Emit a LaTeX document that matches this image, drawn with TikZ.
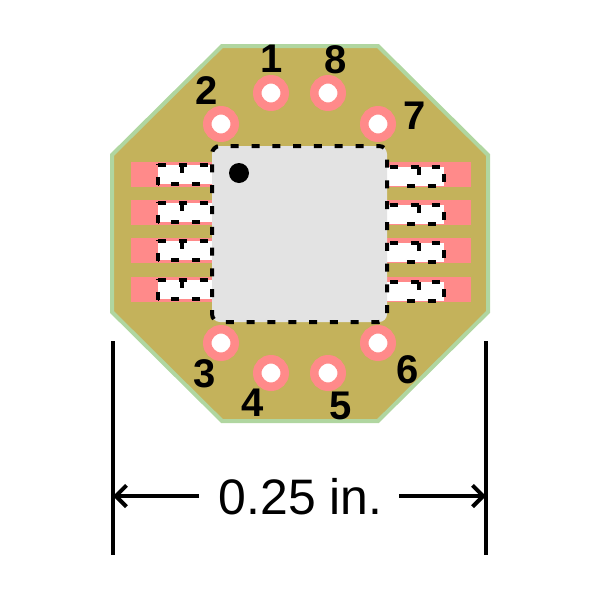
\documentclass[tikz,border=0pt]{standalone}
\usepackage{fontspec}
\setmainfont{Liberation Sans}
\usetikzlibrary{arrows.meta}
\definecolor{board}{HTML}{C4B25B}
\definecolor{edgegreen}{HTML}{B0D6A0}
\definecolor{padpink}{HTML}{FF8A8A}
\definecolor{chipgrey}{HTML}{E3E3E3}
\tikzset{
  dashline/.style={draw=black,line width=3pt,dash pattern=on 6pt off 9.6pt},
  ring/.style={draw=padpink,line width=6.4pt,fill=white,circle,inner sep=0pt,minimum size=20.6pt},
  pinlabel/.style={font=\bfseries\fontsize{30}{30}\selectfont,text=black,inner sep=0pt},
  dimline/.style={draw=black,line width=3pt},
  dimarrow/.style={dimline,-{Straight Barb[length=8pt,width=16pt,line width=3pt]}}
}
\begin{document}
\begin{tikzpicture}[x=0.75pt,y=-0.75pt]
\useasboundingbox (0,0) rectangle (600,600);
\draw[fill=board,draw=edgegreen,line width=3pt] (222,46)--(378,46)--(488,155)--(488,312)--(378,421)--(222,421)--(112,312)--(112,155)--cycle;
% pads
\foreach \y in {162,200,238,277}{
  \fill[padpink] (131,\y) rectangle (212,\y+25);
  \fill[padpink] (387,\y) rectangle (471,\y+25);
  \fill[white] (158,\y+3) rectangle (212,\y+22);
  \fill[white] (387,\y+5) rectangle (444,\y+24);
  \draw[dashline] (158,\y+3) -- (212,\y+3);
  \draw[dashline] (200,\y+22) -- (158,\y+22);
  \draw[dashline] (158,\y+23) -- (158,\y+2);
  \draw[line width=3pt] (182,\y+3) -- (182,\y+11);
  \draw[dashline] (390,\y+5) -- (444,\y+5);
  \draw[dashline] (407,\y+24) -- (444,\y+24);
  \draw[dashline] (444,\y+12) -- (444,\y+24);
  \draw[line width=3pt] (419,\y+5) -- (419,\y+13);
}
% chip
\fill[chipgrey,rounded corners=6pt] (212,146) rectangle (387,322);
\draw[dashline,dash phase=3pt,rounded corners=6pt] (212,322) -- (212,146) -- (387,146) -- (387,322) -- cycle;
\fill[black] (239,173) circle[radius=10];
% vias
\foreach \n/\x/\y in {a/221/124,b/271/93,c/328/93,d/378/124,e/221/343,f/271/373,g/328/373,h/378/343}{
  \node[ring] (via\n) at (\x,\y) {};
}
% labels
\node[pinlabel] (l1) at (272,59) {1};
\node[pinlabel] (l8) at (336,60) {8};
\node[pinlabel] (l2) at (207,91) {2};
\node[pinlabel] (l7) at (415,116) {7};
\node[pinlabel] (l3) at (205,374) {3};
\node[pinlabel] (l4) at (253,403) {4};
\node[pinlabel] (l5) at (341,406) {5};
\node[pinlabel] (l6) at (408,370) {6};
% dimension
\coordinate (la) at (113,341); \coordinate (lb) at (113,555);
\coordinate (ra) at (486,341); \coordinate (rb) at (486,555);
\coordinate (lt) at (113,496); \coordinate (rt) at (486,496);
\draw[dimline] (la)--(lb);
\draw[dimline] (ra)--(rb);
\node[font=\fontsize{37.4}{37.4}\selectfont,inner sep=0pt,minimum width=149pt,minimum height=40pt] (dim) at (300.5,497) {0.25 in.};
\draw[dimarrow] (113+86,496) -- (lt);
\draw[dimarrow] (486-87,496) -- (rt);
\end{tikzpicture}
\end{document}
